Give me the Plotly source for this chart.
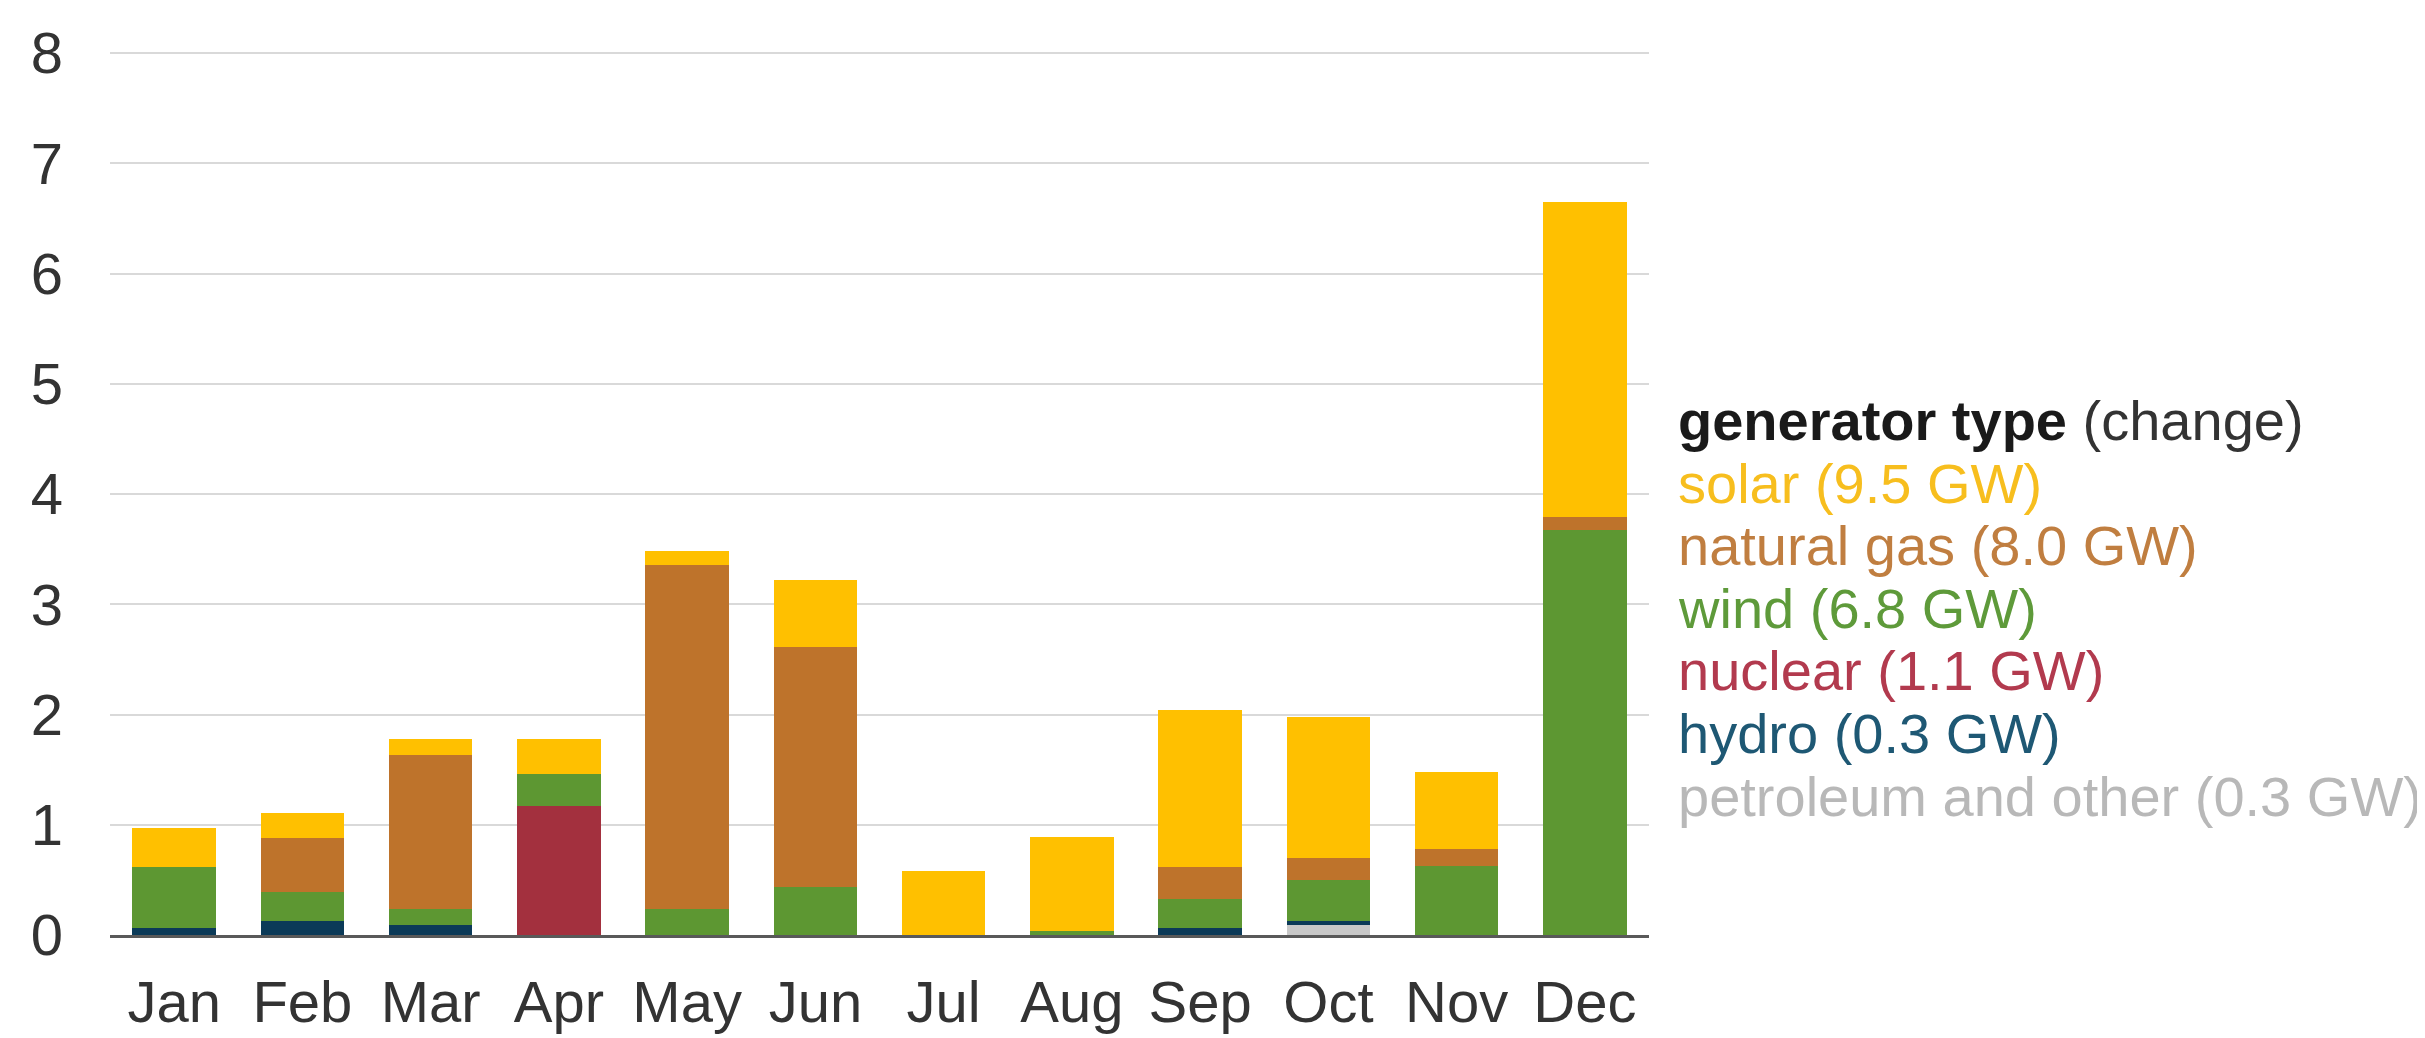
import plotly.graph_objects as go

months = ["Jan", "Feb", "Mar", "Apr", "May", "Jun", "Jul", "Aug", "Sep", "Oct", "Nov", "Dec"]

petroleum = [0, 0, 0, 0, 0, 0, 0, 0, 0, 0.09, 0, 0]
hydro = [0.06, 0.13, 0.09, 0, 0, 0, 0, 0, 0.06, 0.04, 0, 0]
nuclear = [0, 0, 0, 1.17, 0, 0, 0, 0, 0, 0, 0, 0]
wind = [0.56, 0.26, 0.15, 0.29, 0.24, 0.44, 0, 0.04, 0.27, 0.37, 0.63, 3.67]
natural_gas = [0, 0.49, 1.39, 0, 3.12, 2.17, 0, 0, 0.29, 0.20, 0.15, 0.12]
solar = [0.35, 0.23, 0.15, 0.32, 0.12, 0.61, 0.58, 0.85, 1.42, 1.28, 0.70, 2.86]

legend_title = ("generator type", "(change)")
legend_labels = [
    "solar (9.5 GW)",
    "natural gas (8.0 GW)",
    "wind (6.8 GW)",
    "nuclear (1.1 GW)",
    "hydro (0.3 GW)",
    "petroleum and other (0.3 GW)",
]
legend_colors = ["#F7BE1E", "#C07E40", "#5E9A3A", "#B23A4E", "#1E5874", "#B8B8B8"]

series = [
    ("petroleum and other", petroleum, "#C8C8C8"),
    ("hydro", hydro, "#0B3A58"),
    ("nuclear", nuclear, "#A3303E"),
    ("wind", wind, "#5D9732"),
    ("natural gas", natural_gas, "#BE732B"),
    ("solar", solar, "#FFC000"),
]

fig = go.Figure()
for name, vals, color in series:
    fig.add_trace(go.Bar(x=months, y=vals, name=name, marker=dict(color=color, line=dict(width=0))))

FONT = "Liberation Sans, Arial, sans-serif"

W, H = 2425, 1038
L, R, T, B = 102, 784, 37, 98
plot_h = H - T - B

annotations = []
y0 = 414
step = 64.0
annotations.append(dict(
    text="<b>%s</b> <span style='color:#333333'>%s</span>" % legend_title,
    x=1.0176, xref="paper", xanchor="left",
    y=(H - B - y0) / plot_h, yref="paper", yanchor="middle",
    showarrow=False, font=dict(family=FONT, size=56, color="#1A1A1A"),
))
for i, (lab, col) in enumerate(zip(legend_labels, legend_colors)):
    yc = y0 + step * (i + 1)
    annotations.append(dict(
        text=lab, x=1.0176, xref="paper", xanchor="left",
        y=(H - B - yc) / plot_h, yref="paper", yanchor="middle",
        showarrow=False, font=dict(family=FONT, size=56, color=col),
    ))

fig.update_layout(
    width=W, height=H, autosize=False,
    margin=dict(l=L, r=R, t=T, b=B, pad=0),
    barmode="stack", bargap=0.35,
    showlegend=False,
    plot_bgcolor="white", paper_bgcolor="white",
    font=dict(family=FONT, size=58, color="#333333"),
    annotations=annotations,
)
fig.update_yaxes(
    range=[0, 8.01], dtick=1, tick0=0,
    showgrid=True, gridcolor="#D9D9D9", gridwidth=2,
    zeroline=False, showline=False,
    ticks="", ticklabelstandoff=46,
    tickfont=dict(family=FONT, size=58, color="#333333"),
)
fig.update_xaxes(
    showline=True, linecolor="#595959", linewidth=3,
    showgrid=False, ticks="", ticklabelstandoff=14,
    tickfont=dict(family=FONT, size=58, color="#333333"),
)

fig.write_html("out.html")
